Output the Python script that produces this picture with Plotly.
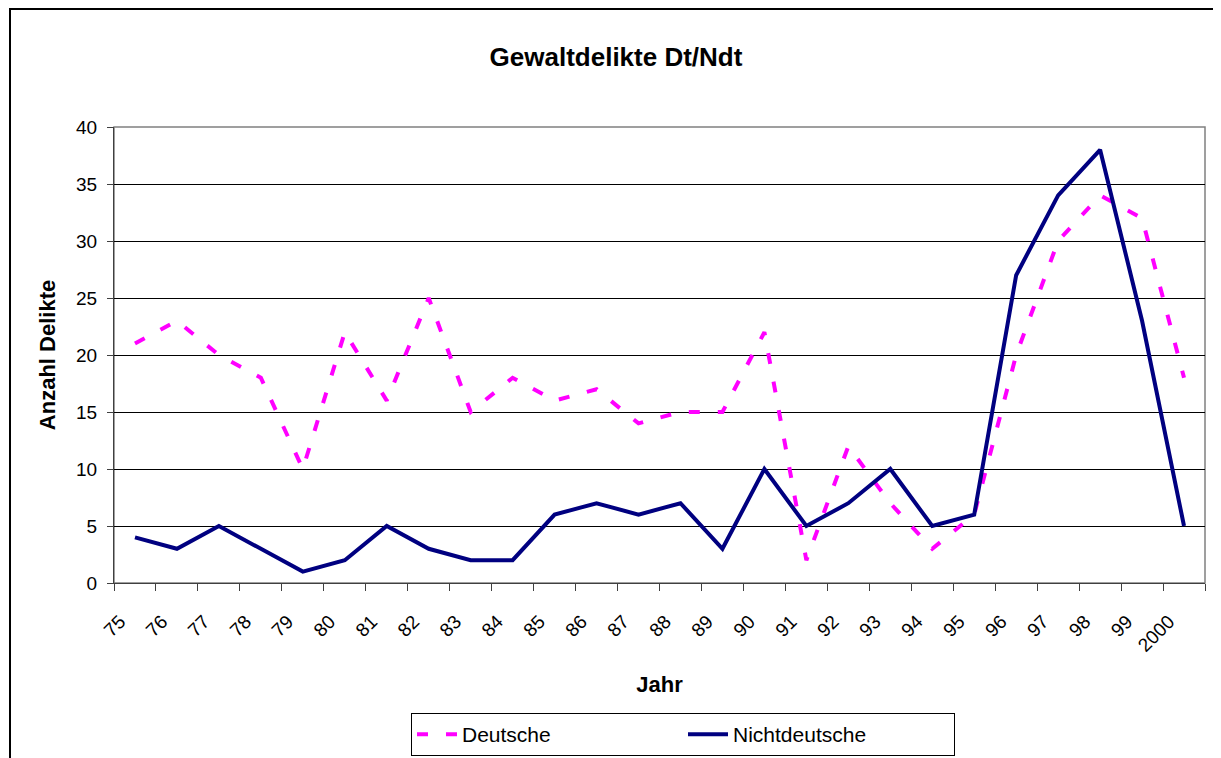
import plotly.graph_objects as go

years = ["75", "76", "77", "78", "79", "80", "81", "82", "83", "84", "85", "86", "87",
         "88", "89", "90", "91", "92", "93", "94", "95", "96", "97", "98", "99", "2000"]
deutsche = [21, 23, 20, 18, 10, 22, 16, 25, 15, 18, 16, 17, 14,
            15, 15, 22, 2, 12, 7, 3, 6, 20, 30, 34, 32, 18]
nichtdeutsche = [4, 3, 5, 3, 1, 2, 5, 3, 2, 2, 6, 7, 6,
                 7, 3, 10, 5, 7, 10, 5, 6, 27, 34, 38, 23, 5]

# page body has an 8px default margin -> work in figure coordinates = reference - 8
O = 8
W, H = 1221 - O, 758 - O
L, R, T, B = 114 - O, 1205 - O, 127 - O, 583 - O
pw, ph = R - L, B - T

def px(x):
    return (x - O - L) / pw

def py(y):
    return (B - (y - O)) / ph

FONT = "Liberation Sans, Arial, sans-serif"

fig = go.Figure()
fig.add_trace(go.Scatter(x=years, y=deutsche, name="Deutsche", mode="lines",
                         line=dict(color="#FF00FF", width=4, dash="11px,18px")))
fig.add_trace(go.Scatter(x=years, y=nichtdeutsche, name="Nichtdeutsche", mode="lines",
                         line=dict(color="#000080", width=4)))

fig.update_layout(
    width=W, height=H,
    margin=dict(l=L, r=W - R, t=T, b=H - B, autoexpand=False),
    paper_bgcolor="white", plot_bgcolor="white",
    font=dict(family=FONT, color="black", size=19),
    title=dict(text="<b>Gewaltdelikte Dt/Ndt</b>", xref="container",
               x=(616 - O) / W, xanchor="center",
               yref="container", y=1 - (57 - O) / H, yanchor="middle",
               font=dict(size=26)),
    showlegend=True,
    legend=dict(orientation="h", x=px(683), xanchor="center", y=py(713), yanchor="top",
                bordercolor="black", borderwidth=1, bgcolor="white",
                font=dict(size=21), entrywidth=216, itemwidth=40,
                traceorder="normal"),
    xaxis=dict(type="category", tickson="boundaries", ticks="outside", ticklen=7,
               tickcolor="#404040", showline=True, linecolor="#404040", linewidth=1,
               showgrid=False, tickangle=-45, tickfont=dict(size=19),
               ticklabelstandoff=19, ticklabelshift=-15,
               title=dict(text="<b>Jahr</b>", font=dict(size=22), standoff=21),
               range=[-0.5, len(years) - 0.5], fixedrange=True, automargin=False),
    yaxis=dict(range=[0, 40], dtick=5, ticks="outside", ticklen=6, tickcolor="#404040",
               showline=True, linecolor="#404040", linewidth=1,
               showgrid=True, gridcolor="black", gridwidth=1, zeroline=False,
               tickfont=dict(size=19), ticklabelstandoff=6,
               title=dict(text="<b>Anzahl Delikte</b>", font=dict(size=22), standoff=14),
               fixedrange=True, automargin=False),
)

# plot-area border (gray)
fig.add_shape(type="rect", xref="paper", yref="paper", x0=0, x1=1, y0=0, y1=1,
              line=dict(color="#808080", width=1.5), layer="below")
# outer chart border
fig.add_shape(type="rect", xref="paper", yref="paper",
              x0=px(10), x1=px(1218), y0=py(780), y1=py(9),
              line=dict(color="black", width=2))

fig.write_html("out.html")
